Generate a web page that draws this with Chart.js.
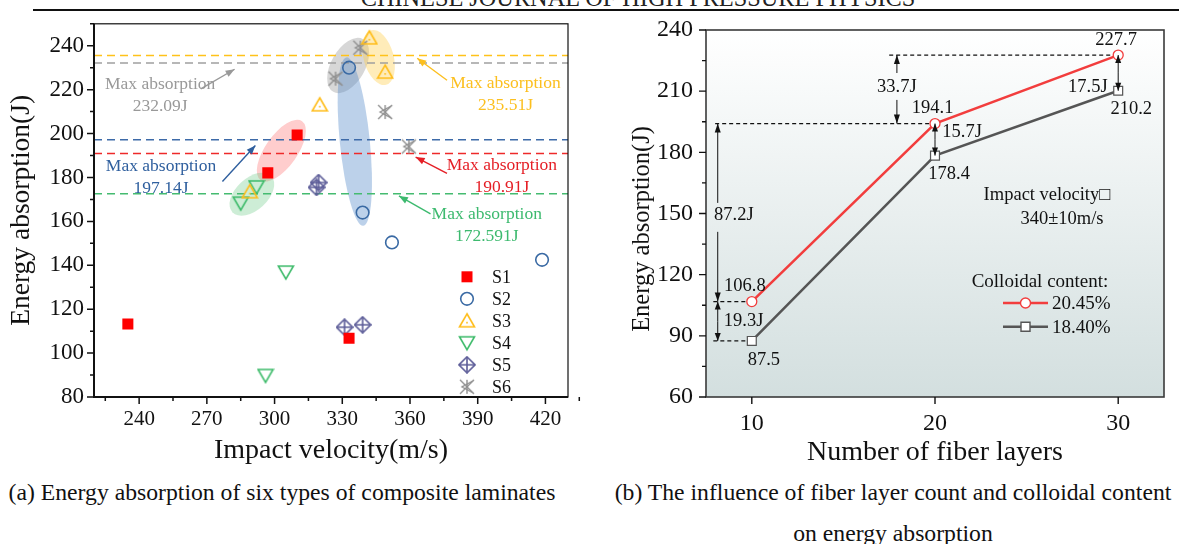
<!DOCTYPE html>
<html lang="en">
<head>
<meta charset="UTF-8">
<title>Energy absorption</title>
<script src="https://cdn.jsdelivr.net/npm/chart.js@4.4.0/dist/chart.umd.min.js"></script>
<style>
  body { margin:0; background:#fff; width:1179px; height:544px; overflow:hidden; position:relative; font-family:"Liberation Serif", serif; color:#111; }
  #head { position:absolute; left:0; top:-12px; width:1276px; text-align:center; font-size:24.3px; line-height:20px; color:#222; white-space:nowrap; }
  #rule { position:absolute; left:33px; top:9px; width:1146px; height:2px; background:#111; }
  .cap { position:absolute; font-size:23.7px; line-height:26px; text-align:center; white-space:nowrap; }
  #wrapA { position:absolute; left:0; top:0; width:590px; height:475px; }
  #wrapB { position:absolute; left:600px; top:0; width:579px; height:475px; }
</style>
</head>
<body>
<div id="head">CHINESE JOURNAL OF HIGH PRESSURE PHYSICS</div>
<div id="rule"></div>
<div id="wrapA"><canvas id="chartA"></canvas></div>
<div id="wrapB"><canvas id="chartB"></canvas></div>
<div class="cap" style="left:0;width:564px;top:479px">(a) Energy absorption of six types of composite laminates</div>
<div class="cap" style="left:600px;width:586px;top:479px">(b) The influence of fiber layer count and colloidal content</div>
<div class="cap" style="left:600px;width:586px;top:520px">on energy absorption</div>
<script>
// ---- panel (a) data ----
var seriesNames = ['S1', 'S2', 'S3', 'S4', 'S5', 'S6'];
var velS1 = [235, 297, 310, 333];
var absS1 = [113.3, 182.1, 199.3, 106.8];
var velS2 = [333, 339, 352, 418.5];
var absS2 = [230, 164, 150.4, 142.5];
var velS3 = [289, 320, 342, 349];
var absS3 = [173.5, 213.1, 243.6, 228];
var velS4 = [285, 292, 296, 305];
var absS4 = [168.3, 175.7, 89.8, 136.9];
var velS5 = [318.6, 319.5, 331, 339];
var absS5 = [175.5, 177.7, 111.8, 112.9];
var velS6 = [327, 338, 349, 359.5];
var absS6 = [225, 239.1, 209.8, 194.1];
// max absorption lines S1..S6 (S5 has none)
var maxAbs = [190.91, 197.14, 235.51, 172.591, null, 232.09];
var velTicks = [240, 270, 300, 330, 360, 390, 420];
var absTicks = [80, 100, 120, 140, 160, 180, 200, 220, 240];

// ---- panel (b) data ----
var layers = [10, 20, 30];
var abs2045 = [106.8, 194.1, 227.7];
var abs1840 = [87.5, 178.4, 210.2];
var layerTicks = [10, 20, 30];
var absTicksB = [60, 90, 120, 150, 180, 210, 240];
// gaps as printed in the figure
var gapLabels = ['33.7J', '87.2J', '19.3J', '15.7J', '17.5J'];

var SERIF = '"Liberation Serif", "Times New Roman", serif';
var colS = ['#ff0000', '#3a6aa4', '#ffbd1a', '#3dbb6a', '#5c5c98', '#8f8f8f'];
var lineCol = ['#ee2a2a', '#3d6aa8', '#ffc21a', '#45bb70', null, '#a0a0a0'];

function pts(xs, ys) {
    var out = [];
    for (var i = 0; i < xs.length; i++) out.push({x: xs[i], y: ys[i]});
    return out;
}

function marker(color, draw) {
    var c = document.createElement('canvas');
    c.width = 18; c.height = 18;
    var g = c.getContext('2d');
    g.strokeStyle = color; g.fillStyle = color; g.lineWidth = 1.6;
    draw(g);
    return c;
}
var mkS3 = marker(colS[2], function (g) {
    g.beginPath(); g.moveTo(9, 2); g.lineTo(16.5, 15); g.lineTo(1.5, 15); g.closePath(); g.stroke();
    g.fillRect(8.2, 10, 1.6, 1.6);
});
var mkS4 = marker(colS[3], function (g) {
    g.beginPath(); g.moveTo(1.5, 3); g.lineTo(16.5, 3); g.lineTo(9, 16); g.closePath(); g.stroke();
});
var mkS5 = marker(colS[4], function (g) {
    g.beginPath(); g.moveTo(9, 1); g.lineTo(17, 9); g.lineTo(9, 17); g.lineTo(1, 9); g.closePath(); g.stroke();
    g.beginPath(); g.moveTo(9, 1); g.lineTo(9, 17); g.moveTo(1, 9); g.lineTo(17, 9); g.stroke();
});
var mkS6 = marker(colS[5], function (g) {
    g.lineWidth = 1.4;
    g.beginPath(); g.moveTo(2, 2); g.lineTo(16, 16); g.moveTo(2, 16); g.lineTo(16, 2); g.stroke();
    g.beginPath(); g.moveTo(15, 3); g.lineTo(4, 9); g.lineTo(15, 15); g.stroke();
    g.beginPath(); g.moveTo(9, 2); g.lineTo(9, 16); g.stroke();
});

// shaded groups (data-space end points, half width in px)
var groups = [
    {p: [[326.0, 219.0], [339.2, 243.0]], w: 17, fill: 'rgba(150,150,150,0.38)'},
    {p: [[342.8, 247.1], [349.4, 222.2]], w: 15, fill: 'rgba(255,205,70,0.38)'},
    {p: [[331.8, 234.7], [339.3, 158.0]], w: 15, fill: 'rgba(80,135,200,0.38)'},
    {p: [[293.8, 178.8], [312.2, 205.6]], w: 16, fill: 'rgba(255,90,90,0.3)'},
    {p: [[281.3, 164.2], [298.6, 180.6]], w: 16, fill: 'rgba(90,195,120,0.3)'}
];
// labels for the max absorption lines: series index, text anchor, arrow from/to
var notes = [
    {s: 5, color: '#999999', at: [249.3, 222.2], from: [267.3, 220.4], to: [282.3, 229.3]},
    {s: 1, color: '#2f5f9e', at: [249.7, 185.2], from: [276.9, 178.2], to: [291.5, 194.6]},
    {s: 2, color: '#fcbf1e', at: [402.3, 222.8], from: [376.4, 224.3], to: [363.2, 234.3]},
    {s: 0, color: '#e51f26', at: [400.7, 185.6], from: [376.4, 181.9], to: [362.5, 189.3]},
    {s: 3, color: '#3dba6f', at: [394, 163.4], from: [369.1, 163.4], to: [355.1, 171.6]}
];

function head(ctx, x0, y0, x1, y1, len, half) {
    var a = Math.atan2(y1 - y0, x1 - x0);
    var bx = x1 - len * Math.cos(a), by = y1 - len * Math.sin(a);
    ctx.beginPath();
    ctx.moveTo(x1, y1);
    ctx.lineTo(bx + half * Math.sin(a), by - half * Math.cos(a));
    ctx.lineTo(bx - half * Math.sin(a), by + half * Math.cos(a));
    ctx.closePath();
    ctx.fill();
}
function arrow(ctx, x0, y0, x1, y1, len, half) {
    ctx.beginPath(); ctx.moveTo(x0, y0); ctx.lineTo(x1, y1); ctx.stroke();
    head(ctx, x0, y0, x1, y1, len, half);
}

function drawTicks(ctx, scale, values, len, vertical, pos) {
    ctx.beginPath();
    values.forEach(function (v) {
        var p = scale.getPixelForValue(v);
        if (vertical) { ctx.moveTo(pos, p); ctx.lineTo(pos - len, p); }
        else { ctx.moveTo(p, pos); ctx.lineTo(p, pos + len); }
    });
    ctx.stroke();
}

var leftDecor = {
    id: 'leftDecor',
    beforeDatasetsDraw: function (chart) {
        var ctx = chart.ctx, xs = chart.scales.x, ys = chart.scales.y, a = chart.chartArea;
        ctx.save();
        ctx.beginPath(); ctx.rect(a.left, a.top, a.width, a.height); ctx.clip();
        groups.forEach(function (g) {
            var x0 = xs.getPixelForValue(g.p[0][0]), y0 = ys.getPixelForValue(g.p[0][1]);
            var x1 = xs.getPixelForValue(g.p[1][0]), y1 = ys.getPixelForValue(g.p[1][1]);
            var len = Math.sqrt((x1 - x0) * (x1 - x0) + (y1 - y0) * (y1 - y0)) / 2;
            ctx.beginPath();
            ctx.ellipse((x0 + x1) / 2, (y0 + y1) / 2, len, g.w, Math.atan2(y1 - y0, x1 - x0), 0, Math.PI * 2);
            ctx.fillStyle = g.fill;
            ctx.fill();
        });
        ctx.lineWidth = 1.5;
        ctx.setLineDash([8, 5]);
        maxAbs.forEach(function (v, i) {
            if (v === null) return;
            var y = ys.getPixelForValue(v);
            ctx.strokeStyle = lineCol[i];
            ctx.beginPath(); ctx.moveTo(a.left, y); ctx.lineTo(a.right, y); ctx.stroke();
        });
        ctx.restore();
    },
    afterDraw: function (chart) {
        var ctx = chart.ctx, xs = chart.scales.x, ys = chart.scales.y, a = chart.chartArea;
        ctx.save();
        // frame
        ctx.strokeStyle = '#111';
        ctx.lineWidth = 1.2;
        ctx.strokeRect(a.left, a.top, a.width, a.height);
        ctx.lineWidth = 2;
        ctx.beginPath(); ctx.moveTo(a.left, a.top); ctx.lineTo(a.left, a.bottom); ctx.lineTo(a.right, a.bottom); ctx.stroke();
        ctx.lineWidth = 1.5;
        drawTicks(ctx, ys, absTicks, 7, true, a.left);
        drawTicks(ctx, ys, absTicks.map(function (v) { return v + 10; }), 4, true, a.left);
        drawTicks(ctx, xs, velTicks, 7, false, a.bottom);
        drawTicks(ctx, xs, [225].concat(velTicks.map(function (v) { return v + 15; })), 4, false, a.bottom);
        // notes
        ctx.font = '17.5px ' + SERIF;
        ctx.textAlign = 'center';
        ctx.textBaseline = 'middle';
        notes.forEach(function (n) {
            var tx = xs.getPixelForValue(n.at[0]), ty = ys.getPixelForValue(n.at[1]);
            ctx.fillStyle = n.color; ctx.strokeStyle = n.color;
            ctx.fillText('Max absorption', tx, ty);
            ctx.fillText(maxAbs[n.s] + 'J', tx, ty + 22);
            ctx.lineWidth = 1.4;
            arrow(ctx, xs.getPixelForValue(n.from[0]), ys.getPixelForValue(n.from[1]),
                xs.getPixelForValue(n.to[0]), ys.getPixelForValue(n.to[1]), 9, 3.5);
        });
        // legend
        ctx.font = '18px ' + SERIF;
        ctx.textAlign = 'left';
        chart.data.datasets.forEach(function (ds, i) {
            var mx = a.left + 373, my = a.top + 253 + i * 22;
            if (ds.pointStyle === 'rect') {
                ctx.fillStyle = ds.backgroundColor;
                ctx.fillRect(mx - 5.5, my - 5.5, 11, 11);
            } else if (ds.pointStyle === 'circle') {
                ctx.strokeStyle = ds.borderColor; ctx.lineWidth = 1.6;
                ctx.beginPath(); ctx.arc(mx, my, 6.3, 0, Math.PI * 2); ctx.stroke();
            } else {
                ctx.drawImage(ds.pointStyle, mx - 9, my - 9);
            }
            ctx.fillStyle = '#111';
            ctx.fillText(ds.label, mx + 25, my + 1);
        });
        ctx.restore();
    }
};

var styles = ['rect', 'circle', mkS3, mkS4, mkS5, mkS6];
var velAll = [velS1, velS2, velS3, velS4, velS5, velS6];
var absAll = [absS1, absS2, absS3, absS4, absS5, absS6];
var dataSetsA = seriesNames.map(function (name, i) {
    return {
        label: name,
        data: pts(velAll[i], absAll[i]),
        pointStyle: styles[i],
        pointRadius: i === 0 ? 7.8 : 6.3,
        borderWidth: i === 0 ? 0 : 1.6,
        borderColor: colS[i],
        backgroundColor: i === 0 ? colS[0] : 'rgba(0,0,0,0)',
        showLine: false
    };
});

new Chart(document.getElementById('chartA'), {
    type: 'scatter',
    data: {datasets: dataSetsA},
    options: {
        responsive: true,
        maintainAspectRatio: false,
        animation: false,
        layout: {padding: {left: 0, right: 22, top: 16, bottom: 0}},
        plugins: {legend: {display: false}, tooltip: {enabled: false}},
        scales: {
            x: {
                type: 'linear', min: 220, max: 430,
                afterBuildTicks: function (s) { s.ticks = velTicks.map(function (v) { return {value: v}; }); },
                afterFit: function (s) { s.height = 78; },
                grid: {display: false, drawTicks: false},
                border: {display: false},
                ticks: {padding: 10, color: '#111', font: {family: SERIF, size: 21}},
                title: {display: true, text: 'Impact velocity(m/s)', color: '#111', font: {family: SERIF, size: 28}, padding: {top: 0, bottom: 8}}
            },
            y: {
                min: 80, max: 250,
                afterBuildTicks: function (s) { s.ticks = absTicks.map(function (v) { return {value: v}; }); },
                afterFit: function (s) { s.width = 94; },
                grid: {display: false, drawTicks: false},
                border: {display: false},
                ticks: {padding: 10, color: '#111', font: {family: SERIF, size: 23}},
                title: {display: true, text: 'Energy absorption(J)', color: '#111', font: {family: SERIF, size: 27.5}, padding: {top: 5, bottom: 0}}
            }
        }
    },
    plugins: [leftDecor]
});

// ---- panel (b) ----
var rightDecor = {
    id: 'rightDecor',
    beforeDraw: function (chart) {
        var ctx = chart.ctx, a = chart.chartArea;
        var g = ctx.createLinearGradient(0, a.top, 0, a.bottom);
        g.addColorStop(0, '#ffffff');
        g.addColorStop(1, '#d3dfdf');
        ctx.save();
        ctx.fillStyle = g;
        ctx.fillRect(a.left, a.top, a.width, a.height);
        ctx.restore();
    },
    beforeDatasetsDraw: function (chart) {
        var ctx = chart.ctx, xs = chart.scales.x, ys = chart.scales.y;
        ctx.save();
        ctx.strokeStyle = '#111';
        ctx.lineWidth = 1.2;
        ctx.setLineDash([4, 3]);
        var dl = [[17.5, layers[2], abs2045[2]], [8.0, layers[1], abs2045[1]], [7.9, layers[0], abs2045[0]], [7.9, layers[0], abs1840[0]]];
        dl.forEach(function (d) {
            var y = ys.getPixelForValue(d[2]);
            ctx.beginPath(); ctx.moveTo(xs.getPixelForValue(d[0]), y); ctx.lineTo(xs.getPixelForValue(d[1]), y); ctx.stroke();
        });
        ctx.restore();
    },
    afterDraw: function (chart) {
        var ctx = chart.ctx, xs = chart.scales.x, ys = chart.scales.y, a = chart.chartArea;
        function X(v) { return xs.getPixelForValue(v); }
        function Y(v) { return ys.getPixelForValue(v); }
        ctx.save();
        ctx.strokeStyle = '#3a3a3a';
        ctx.lineWidth = 1.6;
        ctx.strokeRect(a.left, a.top, a.width, a.height);
        ctx.strokeStyle = '#111';
        ctx.lineWidth = 1.4;
        drawTicks(ctx, ys, absTicksB, 7, true, a.left);
        drawTicks(ctx, ys, absTicksB.slice(0, -1).map(function (v) { return v + 15; }), 4, true, a.left);
        drawTicks(ctx, xs, layerTicks, 7, false, a.bottom);

        // y title (sits a bit below centre in the figure)
        ctx.save();
        ctx.translate(43, 229);
        ctx.rotate(-Math.PI / 2);
        ctx.font = '24.5px ' + SERIF;
        ctx.fillStyle = '#111';
        ctx.textAlign = 'center';
        ctx.textBaseline = 'middle';
        ctx.fillText('Energy absorption(J)', 0, 0);
        ctx.restore();

        // difference arrows
        ctx.fillStyle = '#111';
        ctx.lineWidth = 1;
        var ax = 8.14;
        arrow(ctx, X(ax), Y(155.2), X(ax), Y(abs2045[1]), 9, 3);
        arrow(ctx, X(ax), Y(141), X(ax), Y(abs2045[0]), 9, 3);
        arrow(ctx, X(ax), Y(97), X(ax), Y(abs2045[0]), 8, 3);
        arrow(ctx, X(ax), Y(97), X(ax), Y(abs1840[0]), 8, 3);
        arrow(ctx, X(17.92), Y(218.9), X(17.92), Y(abs2045[2]), 9, 3);
        arrow(ctx, X(17.92), Y(205.7), X(17.92), Y(abs2045[1]), 9, 3);
        var mid = (abs2045[1] + abs1840[1]) / 2;
        arrow(ctx, X(layers[1]), Y(mid), X(layers[1]), Y(abs2045[1]), 8, 3);
        arrow(ctx, X(layers[1]), Y(mid), X(layers[1]), Y(abs1840[1]), 8, 3);
        mid = (abs2045[2] + abs1840[2]) / 2;
        arrow(ctx, X(layers[2]), Y(mid), X(layers[2]), Y(abs2045[2]), 8, 3);
        arrow(ctx, X(layers[2]), Y(mid), X(layers[2]), Y(abs1840[2]), 8, 3);

        ctx.font = '18.5px ' + SERIF;
        ctx.textAlign = 'center';
        ctx.textBaseline = 'middle';
        var labels = [
            [abs2045[2].toFixed(1), 29.89, 234.8],
            [abs2045[1].toFixed(1), 19.87, 201.6],
            [abs1840[1].toFixed(1), 20.77, 169.4],
            [abs1840[2].toFixed(1), 30.71, 201.1],
            [abs2045[0].toFixed(1), 9.62, 114.5],
            [abs1840[0].toFixed(1), 10.66, 78.2],
            [gapLabels[0], 17.92, 212.2],
            [gapLabels[1], 9.02, 149.3],
            [gapLabels[2], 9.55, 97],
            [gapLabels[3], 21.48, 189.7],
            [gapLabels[4], 28.34, 212.2]
        ];
        labels.forEach(function (l) { ctx.fillText(l[0], X(l[1]), Y(l[2])); });
        ctx.fillText('Impact velocity\u25A1', a.left + 341, a.top + 165);
        ctx.fillText('340\u00B110m/s', a.left + 356, a.top + 189);

        // legend
        ctx.font = '19px ' + SERIF;
        ctx.fillText('Colloidal content:', a.left + 334, a.top + 252);
        chart.data.datasets.forEach(function (ds, i) {
            var ly = a.top + 273 + i * 23.7, lx0 = a.left + 297, lx1 = a.left + 342;
            ctx.strokeStyle = ds.borderColor; ctx.lineWidth = 2.5;
            ctx.beginPath(); ctx.moveTo(lx0, ly); ctx.lineTo(lx1, ly); ctx.stroke();
            ctx.fillStyle = '#fff'; ctx.lineWidth = 1.4;
            ctx.beginPath();
            if (ds.pointStyle === 'circle') ctx.arc((lx0 + lx1) / 2, ly, 5, 0, Math.PI * 2);
            else ctx.rect((lx0 + lx1) / 2 - 4.5, ly - 4.5, 9, 9);
            ctx.fill(); ctx.stroke();
            ctx.fillStyle = '#111';
            ctx.textAlign = 'left';
            ctx.fillText(ds.label, lx1 + 4, ly + 1);
        });
        ctx.restore();
    }
};

new Chart(document.getElementById('chartB'), {
    type: 'line',
    data: {
        datasets: [
            {label: '20.45%', data: pts(layers, abs2045), borderColor: '#f23d3d', borderWidth: 2.5, pointStyle: 'circle', pointRadius: 5, pointBorderWidth: 1.3, pointBackgroundColor: '#fff', pointBorderColor: '#f23d3d'},
            {label: '18.40%', data: pts(layers, abs1840), borderColor: '#555555', borderWidth: 2.5, pointStyle: 'rect', pointRadius: 6.3, pointBorderWidth: 1.2, pointBackgroundColor: '#fff', pointBorderColor: '#555555'}
        ]
    },
    options: {
        responsive: true,
        maintainAspectRatio: false,
        animation: false,
        layout: {padding: {left: 0, right: 15, top: 30, bottom: 0}},
        plugins: {legend: {display: false}, tooltip: {enabled: false}},
        scales: {
            x: {
                type: 'linear', min: 7.5, max: 32.5,
                afterBuildTicks: function (s) { s.ticks = layerTicks.map(function (v) { return {value: v}; }); },
                afterFit: function (s) { s.height = 78; },
                grid: {display: false, drawTicks: false},
                border: {display: false},
                ticks: {padding: 12, color: '#111', font: {family: SERIF, size: 24}},
                title: {display: true, text: 'Number of fiber layers', color: '#111', font: {family: SERIF, size: 28}, padding: {top: 0, bottom: 6}}
            },
            y: {
                min: 60, max: 240,
                afterBuildTicks: function (s) { s.ticks = absTicksB.map(function (v) { return {value: v}; }); },
                afterFit: function (s) { s.width = 106; },
                grid: {display: false, drawTicks: false},
                border: {display: false},
                ticks: {padding: 13, color: '#111', font: {family: SERIF, size: 24}},
                title: {display: false}
            }
        }
    },
    plugins: [rightDecor]
});
</script>
</body>
</html>
